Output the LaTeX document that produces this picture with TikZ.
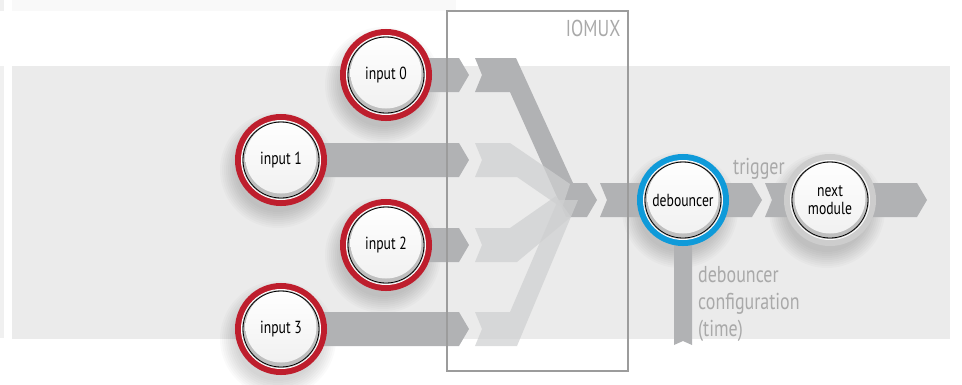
\documentclass[tikz,border=0pt]{standalone}
\usepackage{fontspec}
\setmainfont{PT Sans}[FakeStretch=0.78]
\usetikzlibrary{backgrounds}

\definecolor{bggray}{HTML}{EBEBEB}
\definecolor{bandgray}{HTML}{B1B2B4}
\definecolor{fangray}{HTML}{CFD0D1}
\definecolor{labelgray}{HTML}{A9A9A9}
\definecolor{boxgray}{HTML}{9C9C9C}
\definecolor{ringred}{HTML}{BE1E2D}
\definecolor{ringblue}{HTML}{0F9AD9}
\definecolor{ringgray}{HTML}{CDCDCD}

\begin{document}
\begin{tikzpicture}[x=1pt,y=-1pt]

\newcommand*{\portfont}{\fontsize{17.5}{18}\selectfont}

\tikzstyle{port}=[circle, inner sep=0pt, minimum size=76pt, draw=black,
     line width=0.8pt, fill=gray!50, align=center, font=\portfont, text=black,
     preaction={draw=#1, line width=16pt},
     preaction={draw=white, line width=4pt},
     preaction={draw=gray!55, line width=2pt},
     path picture={\fill[top color=white, bottom color=gray!12]
       ([yshift=2pt]path picture bounding box.center) circle[radius=35.5pt];}];

\tikzstyle{band}=[fill=bandgray];
\tikzstyle{fan}=[fill=fangray, opacity=0.72];
\tikzstyle{graytext}=[text=labelgray, font=\fontsize{23}{27}\selectfont, inner sep=0pt];

% a flat arrow with a notch at its tail
\newcommand*{\flowband}[2]{
\fill[band] ([yshift=17pt]#1.center) -- ([xshift=-10pt,yshift=17pt]#2.center)
   -- (#2.center) -- ([xshift=-10pt,yshift=-17pt]#2.center)
   -- ([yshift=-17pt]#1.center) -- ([xshift=7pt]#1.center) -- cycle;
}

\newcommand*{\portshadow}[1]{
\foreach \rad in {42,44,...,58}
  {\fill[black, opacity=0.018] ([xshift=-3pt,yshift=-10pt]#1.center) circle[radius=\rad pt];}
}

\useasboundingbox (0,0) rectangle (962,384);

% Ports
\node[port=ringred] (in0) at (386,75) {input 0};
\node[port=ringred] (in1) at (281,160) {input 1};
\node[port=ringred] (in2) at (386,245) {input 2};
\node[port=ringred] (in3) at (281,329) {input 3};
\node[port=ringblue] (deb) at (683,200) {debouncer};
\node[port=ringgray] (next) at (830,200) {next\\module};

% Band ends
\coordinate (mux0) at (469,75);
\coordinate (mux1) at (469,160);
\coordinate (mux2) at (469,245);
\coordinate (mux3) at (469,329);
\coordinate (debin) at (600,200);
\coordinate (trigend) at (762,200);
\coordinate (nextin) at (765,200);
\coordinate (outend) at (927,200);
\coordinate (cfgend) at (683,345);

% IOMUX
\node[draw=boxgray, line width=1.6pt, minimum width=181pt, minimum height=360pt,
      anchor=north west] (mux) at (446,10) {};
\node[graytext, anchor=north east] (muxname) at ([xshift=-8pt,yshift=-10pt]mux.north east) {IOMUX};

% Labels
\node[graytext, anchor=base west] (trig) at (733,174) {trigger};
\node[graytext, anchor=north west, align=left] (cfgtext) at (698,266)
  {debouncer\\configuration\\(time)};

\begin{scope}[on background layer]
\fill[gray!5] (12,0) rectangle (456,11);
\fill[gray!12] (0,0) rectangle (4,11);
\fill[gray!12] (0,66) rectangle (4,338);
\fill[bggray] (12,66) rectangle (950,339);

\portshadow{in0}
\portshadow{in1}
\portshadow{in2}
\portshadow{in3}
\portshadow{deb}
\portshadow{next}

% Inputs into the mux
\flowband{in0}{mux0}
\flowband{in1}{mux1}
\flowband{in2}{mux2}
\flowband{in3}{mux3}

% Selected input
\fill[band] (475,58) -- (516,58) -- (573,183) -- (587,183) -- (597,200)
   -- (587,217) -- (566,217) -- (510,92) -- (475,92) -- (482,75) -- cycle;

% Other inputs
\fill[fan] (475,143) -- (510,143) -- (570,184) -- (562,208) -- (517,177)
   -- (475,177) -- (482,160) -- cycle;
\fill[fan] (475,228) -- (510,228) -- (556,196) -- (571,217) -- (517,262)
   -- (475,262) -- (482,245) -- cycle;
\fill[fan] (475,312) -- (510,312) -- (558,200) -- (578,200) -- (517,346)
   -- (475,346) -- (482,329) -- cycle;

% Debouncer and next module
\flowband{debin}{deb}
\flowband{deb}{trigend}
\flowband{nextin}{next}
\flowband{next}{outend}

% Configuration input
\fill[band] ([xshift=-9pt]deb.center) -- ([xshift=-9pt]cfgend) -- ([yshift=4pt]cfgend)
   -- ([xshift=9pt]cfgend) -- ([xshift=9pt]deb.center) -- cycle;
\end{scope}
\end{tikzpicture}
\end{document}
